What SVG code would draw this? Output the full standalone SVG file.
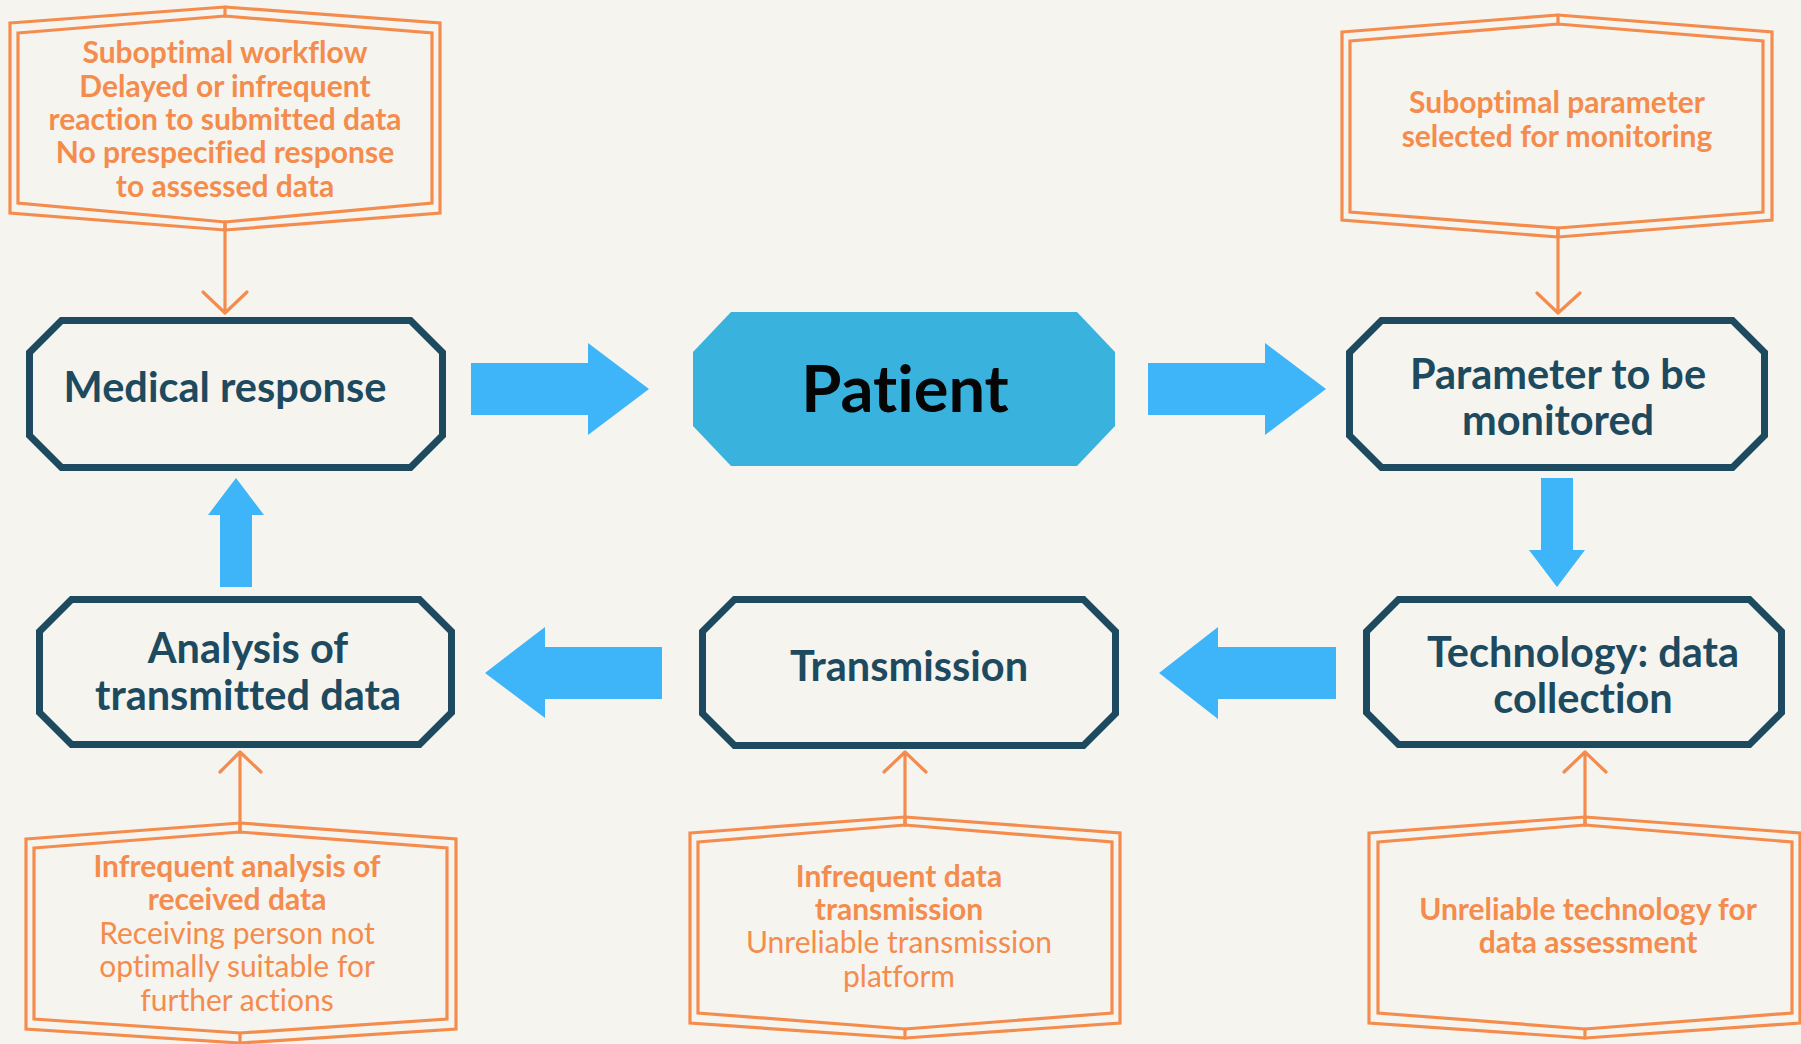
<svg xmlns="http://www.w3.org/2000/svg" width="1801" height="1044" viewBox="0 0 1801 1044">
<style>
.bg{fill:#f6f4ef}
text{font-variant-ligatures:none;font-feature-settings:"liga" 0}
.node{fill:none;stroke:#1d4a5e;stroke-width:7;stroke-linejoin:miter}
.ntext{font-family:Lato,"Liberation Sans",sans-serif;font-weight:700;font-size:41.5px;fill:#1d4a5e;text-anchor:middle}
.ptext{font-family:Lato,"Liberation Sans",sans-serif;font-weight:700;font-size:65px;fill:#050505;text-anchor:middle}
.obox{fill:none;stroke:#f48c4d;stroke-width:3.2;stroke-linejoin:miter}
.oline{fill:none;stroke:#f48c4d;stroke-width:3.2;stroke-linecap:round;stroke-linejoin:round}
.otb{font-family:Lato,"Liberation Sans",sans-serif;font-weight:700;font-size:30px;fill:#f48c4d;text-anchor:middle}
.otr{font-family:Lato,"Liberation Sans",sans-serif;font-weight:400;font-size:30px;fill:#f48c4d;text-anchor:middle}
.barrow{fill:#3db5f8}
</style>
<rect class="bg" x="0" y="0" width="1801" height="1044"/>

<g id="connectors">
  <polygon class="barrow" points="471,363 588,363 588,343 649,389 588,435 588,415 471,415"/>
  <polygon class="barrow" points="1148,363 1265,363 1265,343 1326,389 1265,435 1265,415 1148,415"/>
  <polygon class="barrow" points="1541,478 1573,478 1573,550 1585,550 1557,587 1529,550 1541,550"/>
  <polygon class="barrow" points="1336,647 1218,647 1218,627 1159,673 1218,719 1218,699 1336,699"/>
  <polygon class="barrow" points="662,647 545,647 545,627 485,673 545,718 545,699 662,699"/>
  <polygon class="barrow" points="220,587 252,587 252,515 264,515 236,478 208,515 220,515"/>
  <path class="oline" d="M225,222 V312 M203,292 L225,313 L247,292"/>
  <path class="oline" d="M1558,228 V312 M1537,293 L1558,313 L1580,293"/>
  <path class="oline" d="M240,832 V753 M220,772 L240,752 L261,772"/>
  <path class="oline" d="M905,825 V753 M884,772 L905,752 L926,772"/>
  <path class="oline" d="M1585,825 V753 M1564,772 L1585,752 L1606,772"/>
</g>

<g id="issue-response">
  <polygon class="obox" points="10,23 225,7 440,23 440,213 225,230 10,213"/>
  <polygon class="obox" points="18,33 225,16 432,33 432,203 225,222 18,203"/>
  <path class="oline" d="M225,7 V16 M225,222 V230"/>
  <text class="otb" x="225" y="63">Suboptimal workflow</text>
  <text class="otb" x="225" y="97">Delayed or infrequent</text>
  <text class="otb" x="225" y="130">reaction to submitted data</text>
  <text class="otb" x="225" y="163">No prespecified response</text>
  <text class="otb" x="225" y="197">to assessed data</text>
</g>

<g id="issue-parameter">
  <polygon class="obox" points="1342,32 1558,15 1772,32 1772,220 1558,237 1342,220"/>
  <polygon class="obox" points="1350,41 1558,24 1763,41 1763,212 1558,228 1350,212"/>
  <path class="oline" d="M1558,15 V24 M1558,228 V237"/>
  <text class="otb" x="1557" y="113">Suboptimal parameter</text>
  <text class="otb" x="1557" y="147">selected for monitoring</text>
</g>

<g id="issue-analysis">
  <polygon class="obox" points="26,839 240,823 456,839 456,1029 240,1043 26,1029"/>
  <polygon class="obox" points="34,848 240,832 447,848 447,1019 240,1033 34,1019"/>
  <path class="oline" d="M240,823 V832 M240,1033 V1043"/>
  <text class="otb" x="237" y="877">Infrequent analysis of</text>
  <text class="otb" x="237" y="910">received data</text>
  <text class="otr" x="237" y="944">Receiving person not</text>
  <text class="otr" x="237" y="977">optimally suitable for</text>
  <text class="otr" x="237" y="1011">further actions</text>
</g>

<g id="issue-transmission">
  <polygon class="obox" points="690,833 905,817 1120,833 1120,1023 905,1038 690,1023"/>
  <polygon class="obox" points="698,842 905,825 1112,842 1112,1013 905,1029 698,1013"/>
  <path class="oline" d="M905,817 V825 M905,1029 V1038"/>
  <text class="otb" x="899" y="887">Infrequent data</text>
  <text class="otb" x="899" y="920">transmission</text>
  <text class="otr" x="899" y="953">Unreliable transmission</text>
  <text class="otr" x="899" y="987">platform</text>
</g>

<g id="issue-technology">
  <polygon class="obox" points="1369,833 1585,817 1800,833 1800,1023 1585,1038 1369,1023"/>
  <polygon class="obox" points="1378,842 1585,825 1792,842 1792,1013 1585,1029 1378,1013"/>
  <path class="oline" d="M1585,817 V825 M1585,1029 V1038"/>
  <text class="otb" x="1588" y="920">Unreliable technology for</text>
  <text class="otb" x="1588" y="953">data assessment</text>
</g>

<g id="medical-response">
  <polygon class="node" points="61.5,320.5 410.5,320.5 442.5,352.5 442.5,435.5 410.5,467.5 61.5,467.5 29.5,435.5 29.5,352.5"/>
  <text class="ntext" x="225" y="402">Medical response</text>
</g>

<g id="patient">
  <polygon fill="#39b3de" points="731,312 1077,312 1115,352 1115,426 1077,466 731,466 693,426 693,352"/>
  <text class="ptext" x="905" y="412">Patient</text>
</g>

<g id="parameter">
  <polygon class="node" points="1381.5,320.5 1732.5,320.5 1764.5,352.5 1764.5,435.5 1732.5,467.5 1381.5,467.5 1349.5,435.5 1349.5,352.5"/>
  <text class="ntext" x="1558" y="389">Parameter to be</text>
  <text class="ntext" x="1558" y="435">monitored</text>
</g>

<g id="technology">
  <polygon class="node" points="1398.5,599.5 1749.5,599.5 1781.5,631.5 1781.5,712.5 1749.5,744.5 1398.5,744.5 1366.5,712.5 1366.5,631.5"/>
  <text class="ntext" x="1583" y="667">Technology: data</text>
  <text class="ntext" x="1583" y="713">collection</text>
</g>

<g id="transmission">
  <polygon class="node" points="734.5,599.5 1083.5,599.5 1115.5,631.5 1115.5,713.5 1083.5,745.5 734.5,745.5 702.5,713.5 702.5,631.5"/>
  <text class="ntext" x="909" y="681">Transmission</text>
</g>

<g id="analysis">
  <polygon class="node" points="71.5,599.5 419.5,599.5 451.5,631.5 451.5,712.5 419.5,744.5 71.5,744.5 39.5,712.5 39.5,631.5"/>
  <text class="ntext" x="248" y="663">Analysis of</text>
  <text class="ntext" x="248" y="710">transmitted data</text>
</g>
</svg>
